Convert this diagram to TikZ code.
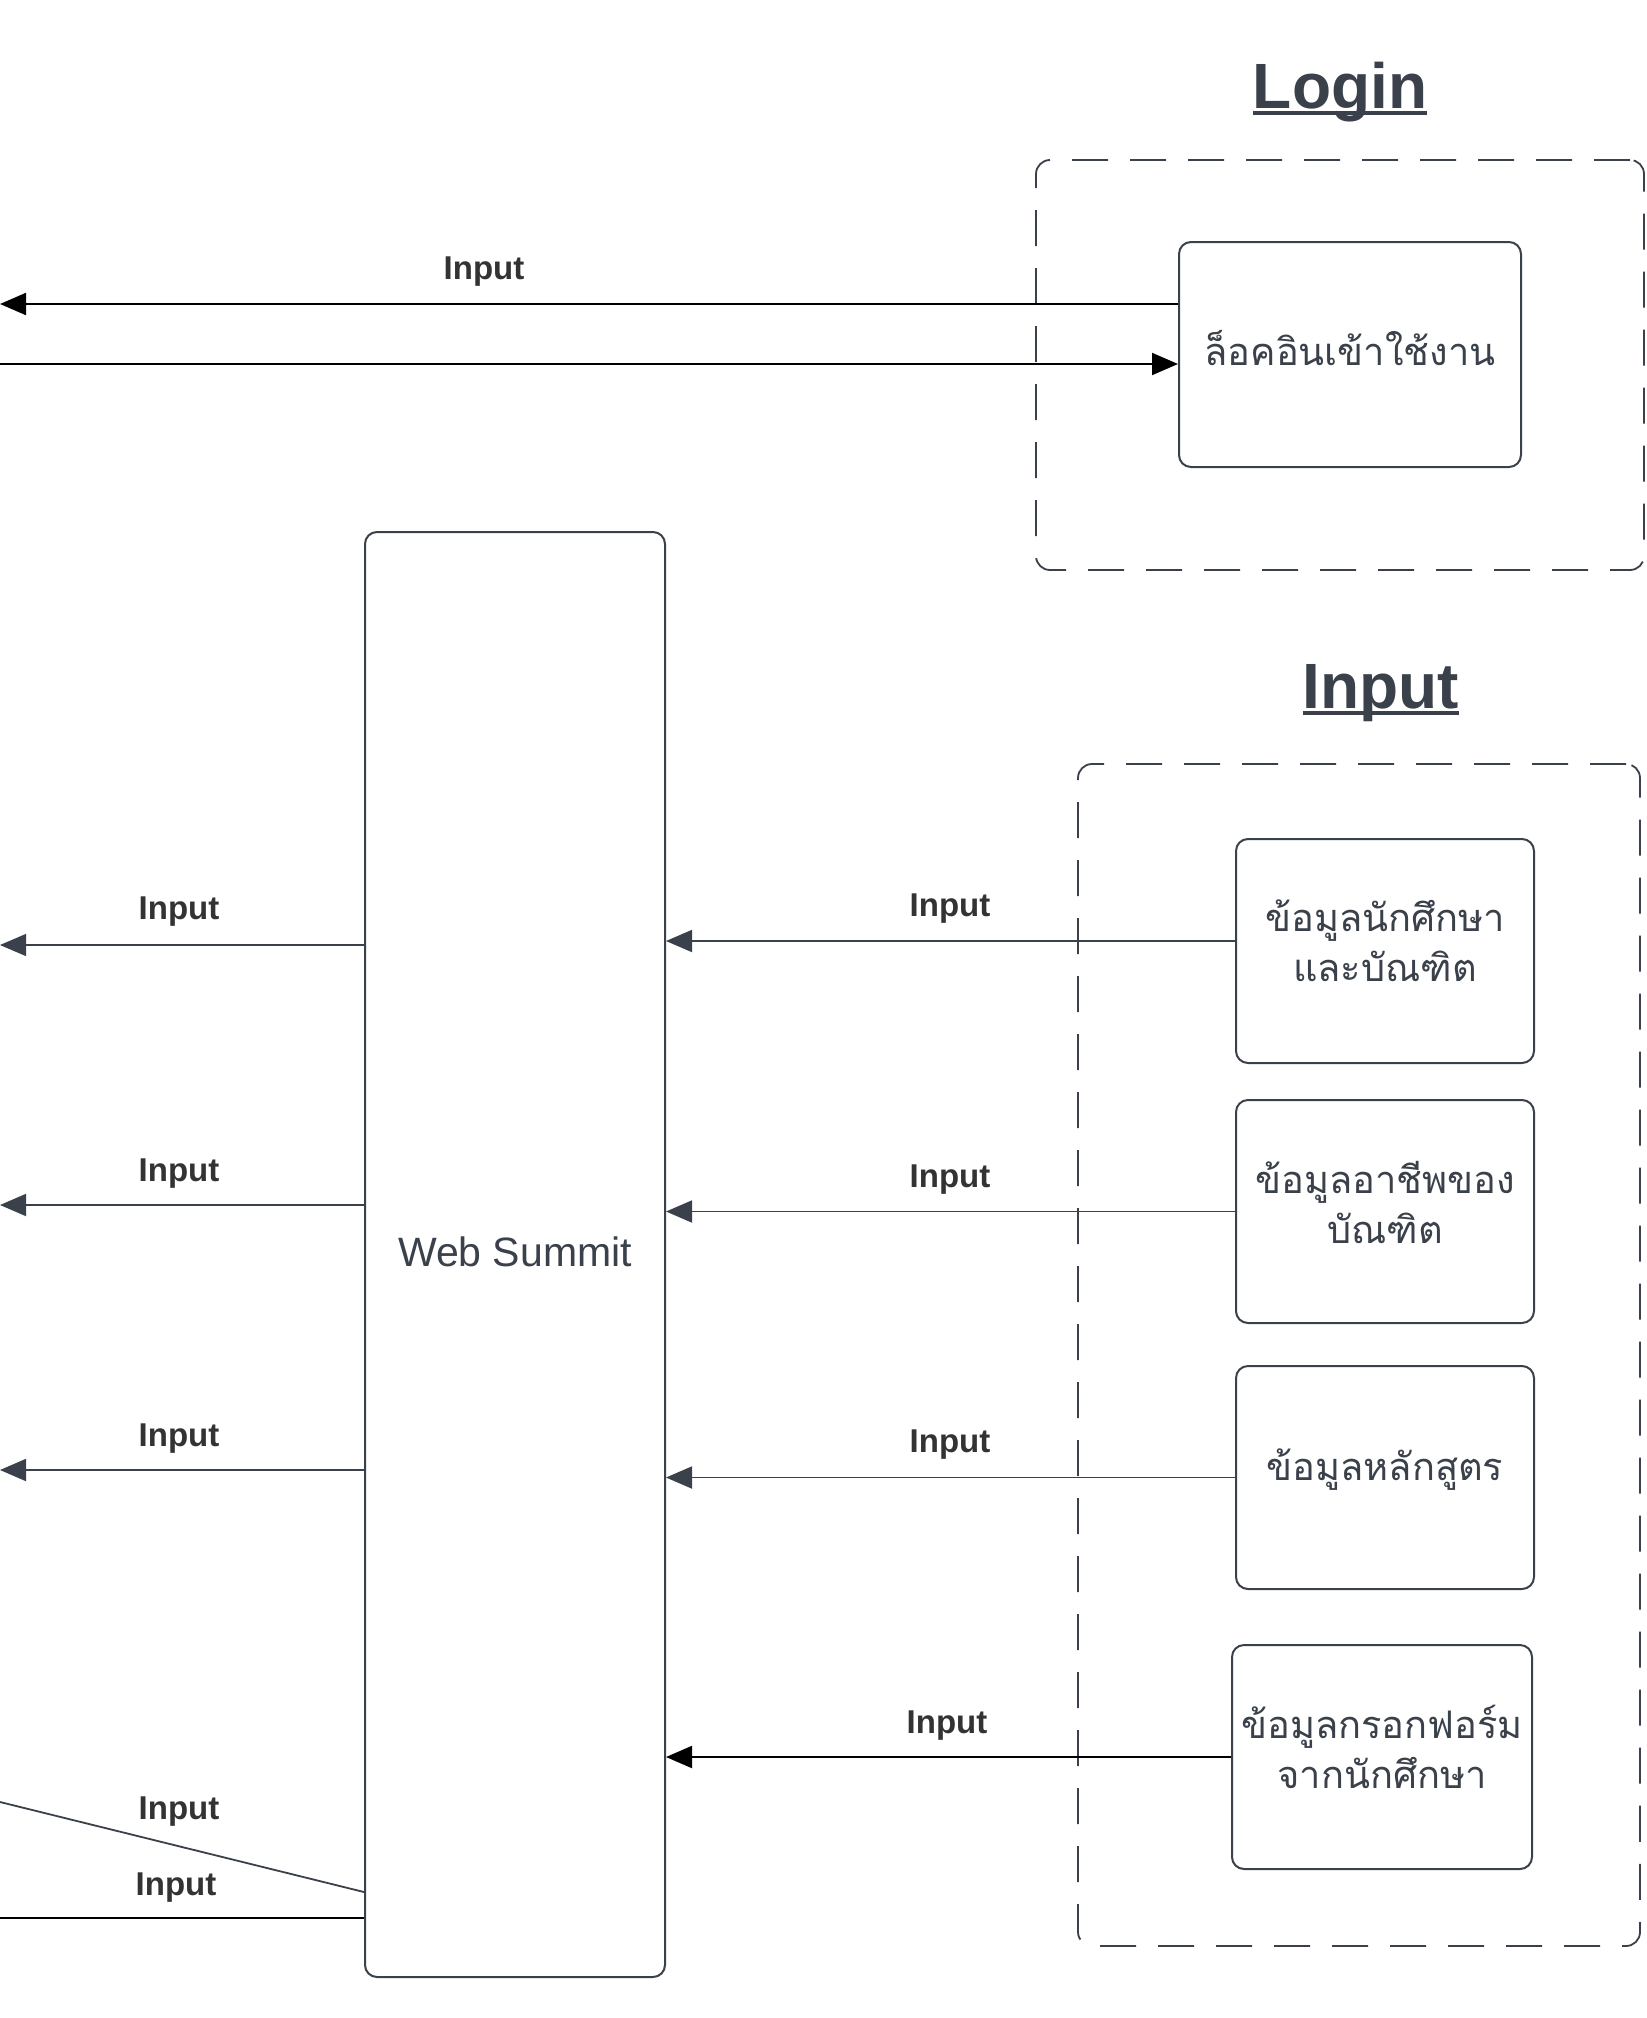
\documentclass[tikz,border=0pt]{standalone}
\usepackage{fontspec}
\setmainfont{Liberation Sans}
\newfontfamily\thai[Script=Thai]{Loma}
\usetikzlibrary{arrows.meta,calc}
\definecolor{ink}{HTML}{3A414A}
\definecolor{lbl}{HTML}{333333}
\tikzset{
  box/.style={draw=ink,line width=2pt,rounded corners=12pt,inner sep=0pt,fill=white},
  group/.style={draw=ink,line width=1.8pt,rounded corners=14pt,dash pattern=on 36pt off 22pt,inner sep=0pt},
  thaitext/.style={text=ink,font=\thai\fontsize{38}{50}\selectfont,align=center,inner sep=0pt},
  title/.style={text=ink,font=\bfseries\fontsize{64}{70}\selectfont,inner sep=0pt,anchor=base},
  lab/.style={text=lbl,font=\bfseries\fontsize{33}{36}\selectfont,inner sep=0pt},
  conn/.style={draw=ink,line width=1.8pt},
  blk/.style={draw=black,line width=2pt},
  tip/.style={-{Triangle[length=26pt,width=22pt]}},
}
\begin{document}
\begin{tikzpicture}[x=1pt,y=-1pt]
\useasboundingbox (0,0) rectangle (1646,2018);
% groups
\node[group,minimum width=608pt,minimum height=410pt] (lg) at (1340,365) {};
\node[group,minimum width=562pt,minimum height=1182pt] (ig) at (1359,1355) {};
% titles
\node[title] (tlogin) at (1340,108) {Login};
\draw[ink,line width=4pt] ([yshift=-5pt]tlogin.base west) -- ([yshift=-5pt]tlogin.base east);
\node[title] (tinput) at (1381,708) {Input};
\draw[ink,line width=4pt] ([yshift=-5pt]tinput.base west) -- ([yshift=-5pt]tinput.base east);
% boxes
\node[box,minimum width=342pt,minimum height=225pt] (login) at (1350,354.5) {};
\node[thaitext] at ([yshift=6pt]login.center) {ล็อคอินเข้าใช้งาน};
\node[box,minimum width=300pt,minimum height=1445pt] (ws) at (515,1254.5) {};
\node[text=ink,font=\fontsize{41}{48}\selectfont,inner sep=0pt] at (515,1252) {Web Summit};
\node[box,minimum width=298pt,minimum height=224pt] (b1) at (1385,951) {};
\node[thaitext] at (1385,941) {ข้อมูลนักศึกษา\\และบัณฑิต};
\node[box,minimum width=298pt,minimum height=223pt] (b2) at (1385,1211.5) {};
\node[thaitext] at (1385,1202) {ข้อมูลอาชีพของ\\บัณฑิต};
\node[box,minimum width=298pt,minimum height=223pt] (b3) at (1385,1477.5) {};
\node[thaitext] at (1385,1470) {ข้อมูลหลักสูตร};
\node[box,minimum width=300pt,minimum height=224pt] (b4) at (1382,1757) {};
\node[thaitext] at (1382,1747) {ข้อมูลกรอกฟอร์ม\\จากนักศึกษา};
% left edge coordinates
\coordinate (e0) at (0,304);
\coordinate (e00) at (0,364);
\coordinate (e1) at (0,945);
\coordinate (e2) at (0,1205);
\coordinate (e3) at (0,1470);
\coordinate (e4) at (0,1802);
\coordinate (e5) at (0,1918);
% login arrows
\draw[blk,tip] ([yshift=50.5pt]login.west) -- (e0);
\draw[blk,tip] (e00) -- ([yshift=-9.5pt]login.west);
\node[lab] at (484,272) {Input};
% inputs into web summit
\draw[conn,tip] ([yshift=10pt]b1.west) coordinate (p1) -- (ws.east |- p1);
\node[lab] at (950,909) {Input};
\draw[conn,tip] (b2.west) -- (ws.east |- b2.west);
\node[lab] at (950,1180) {Input};
\draw[conn,tip] (b3.west) -- (ws.east |- b3.west);
\node[lab] at (950,1445) {Input};
\draw[blk,tip] (b4.west) -- (ws.east |- b4.west);
\node[lab] at (947,1726) {Input};
% outputs to the left
\draw[conn,line width=1.2pt,tip] (ws.west |- e1) -- (e1);
\node[lab] at (179,912) {Input};
\draw[conn,tip] (ws.west |- e2) -- (e2);
\node[lab] at (179,1174) {Input};
\draw[conn,tip] (ws.west |- e3) -- (e3);
\node[lab] at (179,1439) {Input};
\draw[conn] (ws.west |- 0,1892) -- (e4);
\node[lab] at (179,1812) {Input};
\draw[blk] (ws.west |- e5) -- (e5);
\node[lab] at (176,1888) {Input};
\end{tikzpicture}
\end{document}
